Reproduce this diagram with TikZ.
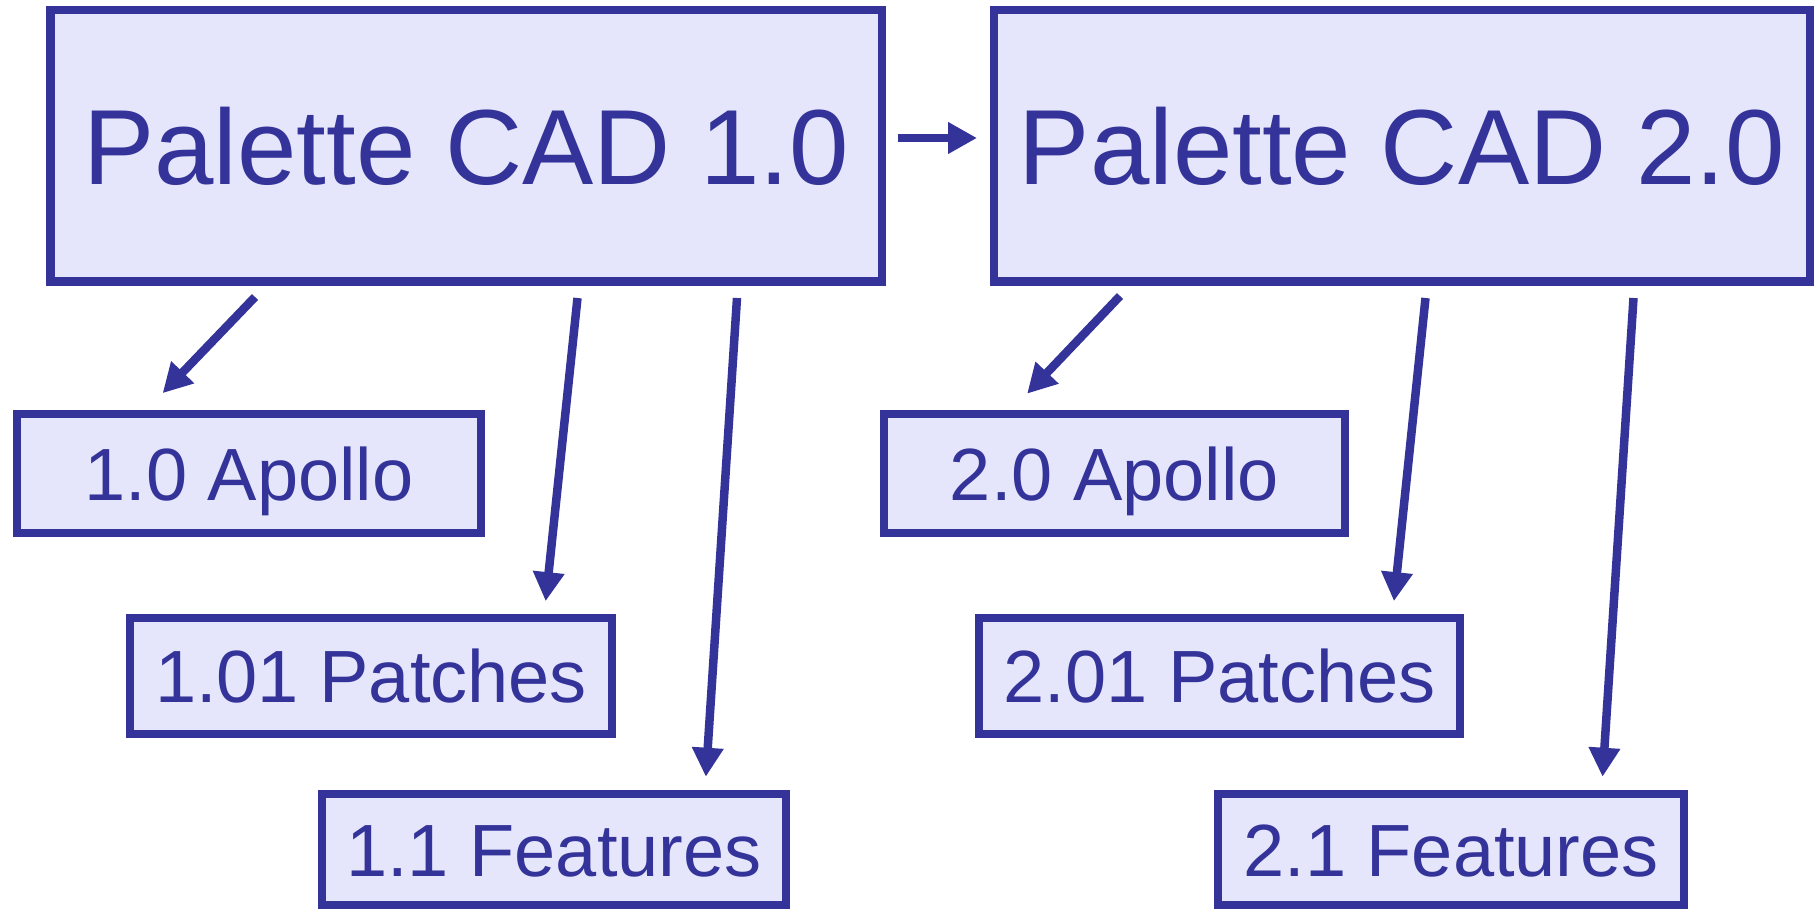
\documentclass[tikz,border=0pt]{standalone}
\usepackage{fontspec}
\setmainfont{Liberation Sans}
\usetikzlibrary{arrows.meta,calc}
\definecolor{bord}{RGB}{51,51,153}
\definecolor{lav}{RGB}{229,229,251}
\tikzset{
  bigbox/.style={draw=bord, fill=lav, line width=4.25pt, text=bord, inner sep=0pt,
    minimum height=135.75pt, font=\fontsize{53.4}{60}\selectfont,
    text height=38.3pt, text depth=-2.6pt},
  smallbox/.style={draw=bord, fill=lav, line width=4.1pt, text=bord, inner sep=0pt,
    font=\fontsize{37}{42}\selectfont, text height=26.5pt, text depth=-2.2pt},
  conn/.style={draw=bord, line width=4.25pt, -{Triangle[length=14.5pt,width=15pt]}}
}
\begin{document}
\begin{tikzpicture}[x=0.5pt,y=-0.5pt]
\useasboundingbox (0,0) rectangle (1820,909);
\node[bigbox, minimum width=415.75pt] (p1) at (466,146) {Palette CAD 1.0};
\node[bigbox, minimum width=408pt] (p2) at (1401.75,146) {Palette CAD 2.0};
\node[smallbox, minimum width=231.85pt, minimum height=59.5pt] (a1) at (248.9,473.75) {1.0 Apollo};
\node[smallbox, minimum width=240.75pt, minimum height=58pt] (pa1) at (371,676.25) {1.01 Patches};
\node[smallbox, minimum width=231.75pt, minimum height=55.25pt] (f1) at (554,849.5) {1.1 Features};
\node[smallbox, minimum width=230.25pt, minimum height=59.5pt] (a2) at (1114.5,473.75) {2.0 Apollo};
\node[smallbox, minimum width=240.5pt, minimum height=58pt] (pa2) at (1219.75,676.25) {2.01 Patches};
\node[smallbox, minimum width=232.75pt, minimum height=55.25pt] (f2) at (1451,849.5) {2.1 Features};
% connectors
\draw[conn] ($(p1.east)+(12,-8)$) -- ($(p2.west)+(-12.5,-8)$);
\draw[conn] ($(p1.south west)+(209,11)$) -- ($(a1.north west)+(149.7,-17)$);
\draw[conn] ($(p1.south west)+(531.5,12)$) -- ($(pa1.north west)+(419.5,-13)$);
\draw[conn] ($(p1.south west)+(691,12)$) -- ($(f1.north west)+(387.7,-13.4)$);
\draw[conn] ($(p2.south west)+(130.5,10)$) -- ($(a2.north west)+(147,-16.5)$);
\draw[conn] ($(p2.south west)+(436,12)$) -- ($(pa2.north west)+(418.8,-13)$);
\draw[conn] ($(p2.south west)+(644,12)$) -- ($(f2.north west)+(388.4,-13.4)$);
\end{tikzpicture}
\end{document}
